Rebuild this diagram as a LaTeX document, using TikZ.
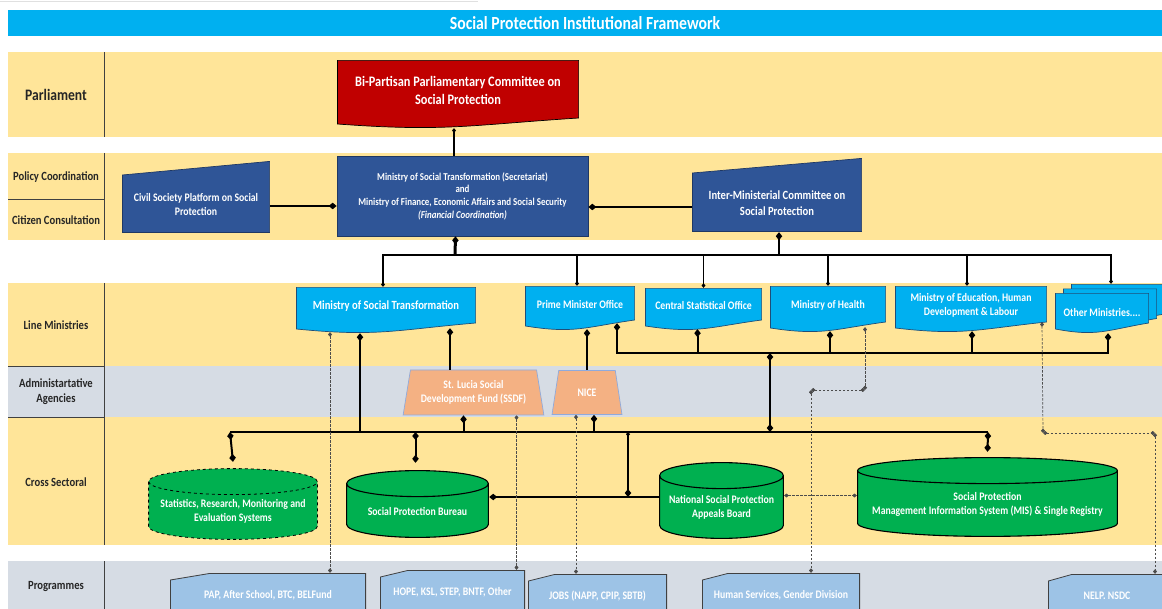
\documentclass[tikz,border=0pt]{standalone}
\usepackage{fontspec}
\setmainfont{Carlito}[FakeStretch=0.85]
\usetikzlibrary{arrows.meta,shapes.geometric,calc}

\definecolor{barblue}{HTML}{00B0F0}
\definecolor{bandyellow}{HTML}{FFE599}
\definecolor{bandgrey}{HTML}{D6DCE4}
\definecolor{navy}{HTML}{2F5597}
\definecolor{navyline}{HTML}{1F3864}
\definecolor{crimson}{HTML}{C00000}
\definecolor{skyblue}{HTML}{00B0F0}
\definecolor{sheetline}{HTML}{1F4E79}
\definecolor{salmon}{HTML}{F4B183}
\definecolor{agencyline}{HTML}{8FAADC}
\definecolor{leaf}{HTML}{00B050}
\definecolor{paleblue}{HTML}{9DC3E6}
\definecolor{linegrey}{HTML}{404040}

\newcommand{\boxfont}{\fontsize{11.5}{14}\selectfont\bfseries}
\newcommand{\rowfont}{\fontsize{12.5}{15}\selectfont\bfseries}
% invisible struts to push a label down (padtop) or up (padbot)
\newcommand{\padtop}[1]{\rule{0pt}{#1}}
\newcommand{\padbot}[1]{\rule[-#1]{0pt}{#1}}

\tikzstyle{rowname} = [align=center, font=\rowfont, text=black!85]
\tikzstyle{hub} = [rectangle, draw=navyline, fill=navy, line width=0.7pt,
    align=center, text=white]
\tikzstyle{agency} = [trapezium, trapezium stretches=true,
    trapezium left angle=78, trapezium right angle=78, draw=agencyline,
    fill=salmon, line width=0.7pt, align=center, text=white, font=\boxfont]
\tikzstyle{link} = [line width=2pt, black]
\tikzstyle{tie} = [line width=1.2pt, black]
\tikzstyle{dotlink} = [dash pattern=on 2.5pt off 1.5pt, line width=0.7pt,
    black!70, pip-pip]

\tikzset{
  dia/.tip={Diamond[length=8pt,width=6.5pt]},
  pip/.tip={Diamond[length=4.5pt,width=4pt]},
  % document with a wavy lower edge
  sheet/.style={align=center, text=white, font=\boxfont, path picture={
      \filldraw[#1, line width=0.7pt]
        ([shift={(0.4pt,-0.4pt)}]path picture bounding box.north west)
        -- ([shift={(-0.4pt,-0.4pt)}]path picture bounding box.north east)
        -- ([shift={(-0.4pt,10pt)}]path picture bounding box.south east)
        .. controls ($(path picture bounding box.south east)!0.45!(path picture bounding box.south west)+(0pt,3pt)$)
        and ($(path picture bounding box.south east)!0.55!(path picture bounding box.south west)+(0pt,-4pt)$)
        .. ([shift={(0.4pt,4pt)}]path picture bounding box.south west) -- cycle;
  }},
  ministry/.style={sheet={fill=skyblue, draw=sheetline}},
  % box with a sloping top edge
  slab/.style={align=center, text=white, font=\boxfont, path picture={
      \filldraw[fill=navy, draw=navyline, line width=0.7pt]
        ([shift={(0.4pt,-#1)}]path picture bounding box.north west)
        -- ([shift={(-0.4pt,-0.4pt)}]path picture bounding box.north east)
        -- ([shift={(-0.4pt,0.4pt)}]path picture bounding box.south east)
        -- ([shift={(0.4pt,0.4pt)}]path picture bounding box.south west) -- cycle;
  }},
  % programme card, top left corner cut off
  tab/.style={align=center, text=white, font=\boxfont, path picture={
      \filldraw[fill=paleblue, draw=linegrey, line width=0.8pt]
        ([shift={(0.4pt,-7pt)}]path picture bounding box.north west)
        -- ([shift={(#1,-0.4pt)}]path picture bounding box.north west)
        -- ([shift={(-0.4pt,-0.4pt)}]path picture bounding box.north east)
        -- ([shift={(-0.4pt,0.4pt)}]path picture bounding box.south east)
        -- ([shift={(0.4pt,0.4pt)}]path picture bounding box.south west) -- cycle;
  }},
  tab/.default=28pt,
  % database drum
  drum/.style={align=center, text=white, font=\boxfont, path picture={
      \filldraw[fill=leaf, draw=black, line width=1.1pt, #1]
        let \p1=(path picture bounding box.north west),
            \p2=(path picture bounding box.south east),
            \n1={0.5*(\x2-\x1)-0.6pt}, \n2={13pt} in
        (\x1+0.6pt,\y1-\n2-0.6pt) -- (\x1+0.6pt,\y2+\n2+0.6pt)
        arc[start angle=180, end angle=360, x radius=\n1, y radius=\n2]
        -- (\x2-0.6pt,\y1-\n2-0.6pt)
        arc[start angle=0, end angle=180, x radius=\n1, y radius=\n2] -- cycle
        (\x1+0.6pt,\y1-\n2-0.6pt)
        arc[start angle=180, end angle=360, x radius=\n1, y radius=\n2];
  }},
  drum/.default=solid
}

\begin{document}
\begin{tikzpicture}[x=1pt, y=-1pt]
  \useasboundingbox (0,0) rectangle (1162,609);
  \clip (0,0) rectangle (1162,609);

  % Bands
  \draw[black!12, line width=1pt] (0,2) -- (478,2);
  \fill[bandyellow] (8,52) rectangle (1162,137);
  \fill[bandyellow] (8,153) rectangle (1162,240);
  \fill[bandyellow] (8,283) rectangle (1162,545);
  \fill[bandgrey] (8,366) rectangle (1162,417);
  \fill[bandgrey] (8,561) rectangle (1162,609);
  \draw[linegrey, line width=0.8pt] (104,52) -- (104,137) (104,153) -- (104,240)
    (104,283) -- (104,545) (104,561) -- (104,609)
    (8,199) -- (104,199) (8,366) -- (104,366) (8,417) -- (104,417);

  % Place nodes
  \node[fill=barblue, minimum width=1154pt, minimum height=26pt, inner sep=0pt,
    text=white, font=\fontsize{18.5}{20}\selectfont\bfseries] (title) at (585,23)
    {Social Protection Institutional Framework};

  \node[rowname, font=\fontsize{16}{19}\selectfont\bfseries] (parl) at (56,95) {Parliament};
  \node[rowname] (policy) at (56,177) {Policy Coordination};
  \node[rowname] (citizen) at (56,220) {Citizen Consultation};
  \node[rowname] (lineMin) at (56,325) {Line Ministries};
  \node[rowname] (admin) at (56,392) {Administartative\\Agencies};
  \node[rowname] (cross) at (56,482) {Cross Sectoral};
  \node[rowname] (progs) at (56,587) {Programmes};

  \node[sheet={fill=crimson, draw=black}, minimum width=242pt, minimum height=68pt,
    font=\fontsize{14.5}{18}\selectfont\bfseries] (bpc) at (458,94)
    {Bi-Partisan Parliamentary Committee on\\Social Protection\padbot{8pt}};
  \node[hub, minimum width=251pt, minimum height=80pt,
    font=\fontsize{10.5}{12.7}\selectfont\bfseries] (sec) at (462.5,196)
    {Ministry of Social Transformation (Secretariat)\\and\\
     Ministry of Finance, Economic Affairs and Social Security\\
     \textit{(Financial Coordination)}};
  \node[slab=14pt, minimum width=148pt, minimum height=72pt] (csp) at (196,197)
    {\padtop{24pt}Civil Society Platform on Social\\Protection};
  \node[slab=15pt, minimum width=170pt, minimum height=74pt,
    font=\fontsize{12.5}{16}\selectfont\bfseries] (imc) at (777,195)
    {\padtop{25pt}Inter-Ministerial Committee on\\Social Protection};

  \node[ministry, minimum width=180pt, minimum height=46pt,
    font=\fontsize{12.5}{15}\selectfont\bfseries] (mst) at (386,310)
    {Ministry of Social Transformation\padbot{10pt}};
  \node[ministry, minimum width=110pt, minimum height=44pt] (pmo) at (580,308)
    {Prime Minister Office\padbot{8pt}};
  \node[ministry, minimum width=117pt, minimum height=42pt] (cso) at (703.5,309)
    {Central Statistical Office\padbot{8pt}};
  \node[ministry, minimum width=116pt, minimum height=46pt] (moh) at (828,309)
    {Ministry of Health\padbot{10pt}};
  \node[ministry, minimum width=152pt, minimum height=46pt] (moe) at (971,309)
    {Ministry of Education, Human\\Development \& Labour\padbot{10pt}};
  \node[ministry, minimum width=94pt, minimum height=40pt] (other3) at (1118,304) {};
  \node[ministry, minimum width=94pt, minimum height=40pt] (other2) at (1110,308.5) {};
  \node[ministry, minimum width=94pt, minimum height=40pt] (other) at (1102,313)
    {Other Ministries....};

  \node[agency, minimum width=141pt, minimum height=45pt] (ssdf) at (473.5,392.5)
    {St. Lucia Social\\Development Fund (SSDF)};
  \node[agency, minimum width=70pt, minimum height=44pt] (nice) at (587,392.5) {NICE};

  \node[drum={dashed, line width=0.8pt}, minimum width=170pt, minimum height=72pt]
    (stat) at (233,504)
    {\padtop{23pt}Statistics, Research, Monitoring and\\Evaluation Systems};
  \node[drum, minimum width=143pt, minimum height=68pt] (spb) at (417.5,504)
    {\padtop{24pt}Social Protection Bureau};
  \node[drum, minimum width=125pt, minimum height=77pt] (nspab) at (721.5,500.5)
    {\padtop{21pt}National Social Protection\\Appeals Board};
  \node[drum, minimum width=261pt, minimum height=80pt] (mis) at (987.5,497)
    {\padtop{23pt}Social Protection\\Management Information System (MIS) \& Single Registry};

  \node[tab=40pt, minimum width=196pt, minimum height=44pt] (pap) at (268,595)
    {PAP, After School, BTC, BELFund};
  \node[tab, minimum width=145pt, minimum height=44pt] (hope) at (452.5,592)
    {HOPE, KSL, STEP, BNTF, Other};
  \node[tab=27pt, minimum width=139pt, minimum height=44pt] (jobs) at (597.5,596)
    {JOBS (NAPP, CPIP, SBTB)};
  \node[tab=26pt, minimum width=158pt, minimum height=44pt] (hs) at (781,595)
    {Human Services, Gender Division};
  \node[tab=24pt, minimum width=118pt, minimum height=44pt] (nelp) at (1107,596)
    {NELP. NSDC};

  % Draw edges
  \coordinate (topBus) at (455,255);
  \coordinate (lmBus) at (770,353);
  \coordinate (csBus) at (770,432);
  \coordinate (csLeft) at (230,432);
  \coordinate (csRight) at (988,432);
  \coordinate (csAppeal) at (628,432);

  \draw[link, pip-] ([xshift=-4pt]bpc.south) -- ([xshift=-4pt]bpc.south |- sec.north);
  \draw[link, -dia] ([yshift=-9pt]csp.east) -- ([yshift=-9pt]csp.east -| sec.west);
  \draw[link, -dia] ([yshift=-12pt]imc.west) -- ([yshift=-12pt]imc.west -| sec.east);
  \draw[link, line width=3pt, dia-] ([xshift=-7pt]sec.south) -- (topBus);
  \draw[link, dia-] ([xshift=2pt]imc.south) |- (topBus);

  \draw[tie, -pip] (topBus) -| ([xshift=-3pt]mst.north);
  \draw[tie, -pip] (topBus) -| ([xshift=-3pt]pmo.north);
  \draw[tie, -pip] (topBus) -| (cso.north);
  \draw[tie, -pip] (topBus) -| (moh.north);
  \draw[tie, -pip] (topBus) -| ([xshift=-4pt]moe.north);
  \draw[tie, -pip] (topBus) -| ([xshift=-7pt]other3.north);

  \draw[link, dia-] ([xshift=37pt,yshift=7pt]pmo.south) |- (lmBus);
  \draw[link, dia-] ([xshift=-6pt,yshift=1pt]cso.south) |- (lmBus);
  \draw[link, dia-] ([xshift=2pt,yshift=1pt]moh.south) |- (lmBus);
  \draw[link, dia-] ([xshift=1pt,yshift=1pt]moe.south) |- (lmBus);
  \draw[link, dia-] ([xshift=6pt]other.south) |- (lmBus);
  \draw[link, dia-dia] (lmBus) -- (csBus);

  \draw[link] (csLeft) -- (csRight);
  \draw[link, dia-] ([xshift=-26pt]mst.south) -- ([xshift=-26pt]mst.south |- csBus);
  \draw[link, dia-] ([xshift=64pt,yshift=5pt]mst.south) -- ([xshift=64pt]mst.south |- ssdf.north);
  \draw[link, dia-] ([xshift=7pt,yshift=1pt]pmo.south) -- ([xshift=7pt]pmo.south |- nice.north);
  \draw[link, dia-] ([xshift=-10pt]ssdf.south) -- ([xshift=-10pt]ssdf.south |- csBus);
  \draw[link, dia-] ([xshift=7pt]nice.south) -- ([xshift=7pt]nice.south |- csBus);
  \draw[link, dia-dia] (csLeft) -- ([yshift=6pt]stat.north);
  \draw[link, dia-dia] ([xshift=-2pt]spb.north |- csBus) -- ([xshift=-2pt,yshift=7pt]spb.north);
  \draw[link, dia-dia] (csRight) -- ([yshift=5pt]mis.north);
  \draw[link, dia-] ([yshift=7pt]spb.east) -- ([yshift=7pt]spb.east -| nspab.west);
  \draw[link, pip-dia] (csAppeal) -- ([yshift=7pt]spb.east -| csAppeal);

  \coordinate (healthTurn) at (865,390);
  \coordinate (healthDrop) at (811,390);
  \coordinate (eduTurn) at (1043,433);
  \coordinate (eduDrop) at (1155,433);
  \draw[dotlink] ([xshift=-56pt,yshift=1pt]mst.south) -- ([xshift=-56pt]mst.south |- pap.north);
  \draw[dotlink] ([xshift=43pt]ssdf.south) -- ([xshift=43pt]ssdf.south |- hope.north);
  \draw[dotlink] ([xshift=-11pt]nice.south) -- ([xshift=-11pt]nice.south |- jobs.north);
  \draw[dotlink] ([xshift=37pt,yshift=5pt]moh.south) -- (healthTurn);
  \draw[dotlink] (healthTurn) -- (healthDrop);
  \draw[dotlink] (healthDrop) -- (healthDrop |- hs.north);
  \draw[dotlink] ([xshift=71pt,yshift=10pt]moe.south) -- (eduTurn);
  \draw[dotlink] (eduTurn) -- (eduDrop);
  \draw[dotlink] (eduDrop) -- (eduDrop |- nelp.north);
  \draw[dotlink] ([yshift=5pt]nspab.east) -- ([yshift=5pt]nspab.east -| mis.west);
\end{tikzpicture}
\end{document}
